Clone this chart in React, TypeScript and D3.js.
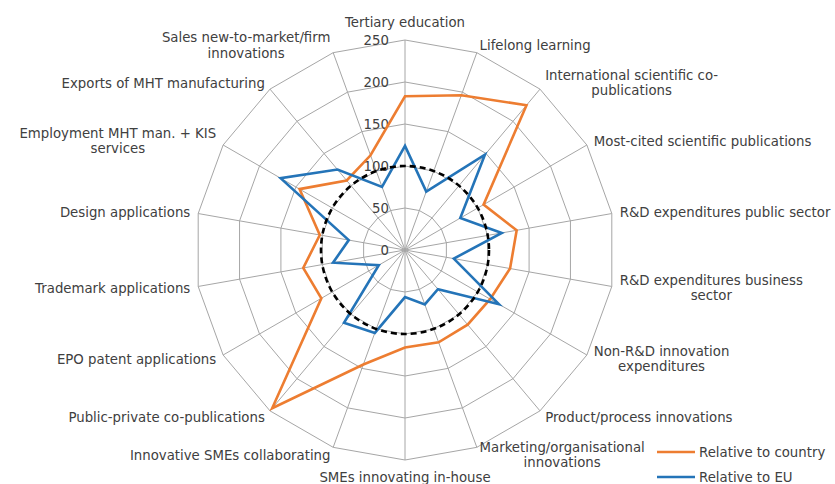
import React, { useRef, useEffect } from "react";
import * as d3 from "d3";

// axis labels, clockwise from the top (each entry = lines of the label)
const categories: string[][] = [
  ["Tertiary education"],
  ["Lifelong learning"],
  ["International scientific co-", "publications"],
  ["Most-cited scientific publications"],
  ["R&D expenditures public sector"],
  ["R&D expenditures business", "sector"],
  ["Non-R&D innovation", "expenditures"],
  ["Product/process innovations"],
  ["Marketing/organisational", "innovations"],
  ["SMEs innovating in-house"],
  ["Innovative SMEs collaborating"],
  ["Public-private co-publications"],
  ["EPO patent applications"],
  ["Trademark applications"],
  ["Design applications"],
  ["Employment MHT man. + KIS", "services"],
  ["Exports of MHT manufacturing"],
  ["Sales new-to-market/firm", "innovations"],
];

const relCountry = [183, 196, 225, 108, 135, 127, 117, 116, 117, 116, 145, 246, 115, 123, 103, 145, 108, 120];
const relEU = [124, 74, 148, 76, 117, 59, 129, 61, 69, 56, 105, 113, 36, 87, 68, 171, 125, 80];
const ticks = [0, 50, 100, 150, 200, 250];
const euLevel = 100;

const seriesNames = ["Relative to country", "Relative to EU"];
const seriesColors = ["#ed7d31", "#2474b8"];

export default function App() {
  const svgRef = useRef<SVGSVGElement>(null);

  useEffect(() => {
    const svg = d3.select(svgRef.current);
    svg.selectAll("*").remove();

    const cx = 405;
    const cy = 250;
    const R = 210;
    const font = "'DejaVu Sans', Verdana, sans-serif";
    const fs = 13.3;
    const textColor = "#404040";
    const n = categories.length;
    const ang = (i: number) => (i * 2 * Math.PI) / n;

    const r = d3.scaleLinear().domain([0, 250]).range([0, R]);

    const g = svg.append("g").attr("transform", `translate(${cx},${cy})`);

    // rings (polygons)
    const ring = d3
      .lineRadial<number>()
      .angle((_, i) => ang(i))
      .radius((d) => r(d))
      .curve(d3.curveLinearClosed);

    ticks.slice(1).forEach((t) => {
      g.append("path")
        .attr("d", ring(categories.map(() => t)))
        .attr("fill", "none")
        .attr("stroke", "#a6a6a6")
        .attr("stroke-width", 1);
    });

    // spokes
    categories.forEach((_, i) => {
      g.append("line")
        .attr("x1", 0)
        .attr("y1", 0)
        .attr("x2", r(250) * Math.sin(ang(i)))
        .attr("y2", -r(250) * Math.cos(ang(i)))
        .attr("stroke", "#a6a6a6")
        .attr("stroke-width", 1);
    });

    // tick labels
    g.selectAll("text.tick")
      .data(ticks)
      .join("text")
      .attr("class", "tick")
      .attr("x", -16)
      .attr("y", (d) => -r(d))
      .attr("dy", "0.35em")
      .attr("text-anchor", "end")
      .attr("font-family", font)
      .attr("font-size", fs)
      .attr("fill", textColor)
      .text((d) => d);

    // series
    const line = d3
      .lineRadial<number>()
      .angle((_, i) => ang(i))
      .radius((d) => r(d))
      .curve(d3.curveLinearClosed);

    [relCountry, relEU].forEach((vals, k) => {
      g.append("path")
        .attr("d", line(vals))
        .attr("fill", "none")
        .attr("stroke", seriesColors[k])
        .attr("stroke-width", 2.6)
        .attr("stroke-linejoin", "miter");
    });

    // EU = 100 reference
    g.append("circle")
      .attr("r", r(euLevel))
      .attr("fill", "none")
      .attr("stroke", "#000")
      .attr("stroke-width", 2.6)
      .attr("stroke-dasharray", "6 4");

    // category labels
    const lineH = 15.5;
    categories.forEach((lines, i) => {
      const a = ang(i);
      const s = Math.sin(a);
      const c = Math.cos(a);
      const vertical = Math.abs(s) < 0.01;
      const gap = vertical ? 10 : 8;
      const px = cx + (R + gap) * s;
      const py = cy - (R + gap) * c;
      const h = lines.length * lineH;
      const centerY = vertical ? py - (c * h) / 2 : py;

      const tg = svg.append("g");
      const texts = lines.map((t) =>
        tg
          .append("text")
          .attr("font-family", font)
          .attr("font-size", fs)
          .attr("fill", textColor)
          .attr("text-anchor", "middle")
          .text(t)
      );
      const w = d3.max(texts, (t) => (t.node() as SVGTextElement).getComputedTextLength()) || 0;
      let midX = px;
      if (!vertical) midX = s > 0 ? px + w / 2 : px - w / 2;
      texts.forEach((t, j) => {
        t.attr("x", midX)
          .attr("y", centerY - h / 2 + lineH * (j + 0.5))
          .attr("dy", "0.35em");
      });
    });

    // legend
    const legend = svg.append("g");
    seriesNames.forEach((name, k) => {
      const y = 452 + k * 25;
      legend
        .append("line")
        .attr("x1", 657)
        .attr("x2", 695)
        .attr("y1", y)
        .attr("y2", y)
        .attr("stroke", seriesColors[k])
        .attr("stroke-width", 2.6);
      legend
        .append("text")
        .attr("x", 699)
        .attr("y", y)
        .attr("dy", "0.35em")
        .attr("font-family", font)
        .attr("font-size", fs)
        .attr("fill", textColor)
        .text(name);
    });
  }, []);

  return (
    <svg
      ref={svgRef}
      width={835}
      height={484}
      style={{ position: "absolute", left: 0, top: 0, background: "#fff" }}
    />
  );
}
